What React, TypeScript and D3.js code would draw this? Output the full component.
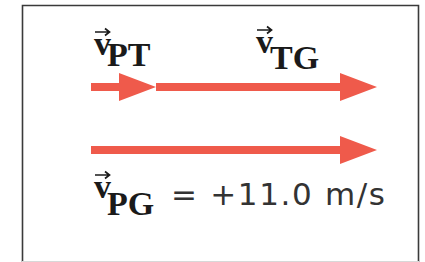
import React, { useEffect, useRef } from 'react';
import * as d3 from 'd3';

// velocities in m/s (passenger/train, train/ground, passenger/ground)
const vectorNames = ['PT', 'TG', 'PG'];
const vectorStarts = [0, 2.5, 0];
const vectorValues = [2.5, 8.5, 11.0];
const vectorRows = [0, 0, 1];
const resultLabel = '= +11.0 m/s';

const RED = '#ef5a4b';

const App = () => {
  const ref = useRef<SVGSVGElement>(null);

  useEffect(() => {
    const svg = d3.select(ref.current);
    svg.selectAll('*').remove();

    const x = d3.scaleLinear().domain([0, 11]).range([91, 377]);
    const y = d3.scaleOrdinal<number, number>().domain([0, 1]).range([87, 150]);

    // frame
    svg.append('path')
      .attr('d', 'M22.5,262 L22.5,5.5 L418.5,5.5 L418.5,262')
      .attr('fill', 'none')
      .attr('stroke', '#3a3a3a')
      .attr('stroke-width', 1.6);
    svg.append('line')
      .attr('x1', 22).attr('x2', 419).attr('y1', 261.5).attr('y2', 261.5)
      .attr('stroke', '#d8d8d8').attr('stroke-width', 1);

    const shaft = 4;
    const headHalf = 14;
    const headLen = 37;
    const arrowPath = (x0: number, x1: number, cy: number) => {
      const hb = x1 - headLen;
      return `M${x0},${cy - shaft} L${hb},${cy - shaft} L${hb},${cy - headHalf} L${x1},${cy} ` +
        `L${hb},${cy + headHalf} L${hb},${cy + shaft} L${x0},${cy + shaft} Z`;
    };

    const data = vectorNames.map((name, i) => ({
      name,
      start: vectorStarts[i],
      end: vectorStarts[i] + vectorValues[i],
      row: vectorRows[i],
    }));

    svg.selectAll('.arrow')
      .data(data)
      .enter()
      .append('path')
      .attr('class', 'arrow')
      .attr('d', d => arrowPath(x(d.start), x(d.end), y(d.row)))
      .attr('fill', RED);

    // vector labels: v with arrow over it and a subscript
    const labels = [
      { name: 'PT', lx: 94, vBase: 55, subBase: 66, subX: 107 },
      { name: 'TG', lx: 256, vBase: 53, subBase: 69, subX: 270 },
      { name: 'PG', lx: 94, vBase: 198, subBase: 215, subX: 107 },
    ];

    const g = svg.selectAll('.label')
      .data(labels)
      .enter()
      .append('g')
      .attr('class', 'label');

    g.append('text')
      .attr('x', d => d.lx)
      .attr('y', d => d.vBase)
      .attr('font-family', '"Liberation Serif", serif')
      .attr('font-weight', 'bold')
      .attr('font-size', 34)
      .attr('fill', '#1a1a1a')
      .text('v');

    g.append('text')
      .attr('x', d => d.subX)
      .attr('y', d => d.subBase)
      .attr('font-family', '"Liberation Serif", serif')
      .attr('font-weight', 'bold')
      .attr('font-size', 34)
      .attr('fill', '#1a1a1a')
      .text(d => d.name);

    g.append('path')
      .attr('d', d => {
        const ay = d.vBase - 23;
        const ax = d.lx + 1;
        return `M${ax},${ay} L${ax + 14},${ay} M${ax + 10},${ay - 3.5} L${ax + 14.5},${ay} L${ax + 10},${ay + 3.5}`;
      })
      .attr('fill', 'none')
      .attr('stroke', '#1a1a1a')
      .attr('stroke-width', 1.7);

    svg.append('text')
      .attr('x', 171)
      .attr('y', 205)
      .attr('font-family', '"DejaVu Sans", sans-serif')
      .attr('font-size', 31)
      .attr('fill', '#333')
      .attr('textLength', 214)
      .attr('lengthAdjust', 'spacing')
      .text(resultLabel);
  }, []);

  return (
    <svg
      ref={ref}
      width={425}
      height={262}
      style={{ position: 'absolute', left: 0, top: 0, background: '#fff' }}
    />
  );
};

export default App;
